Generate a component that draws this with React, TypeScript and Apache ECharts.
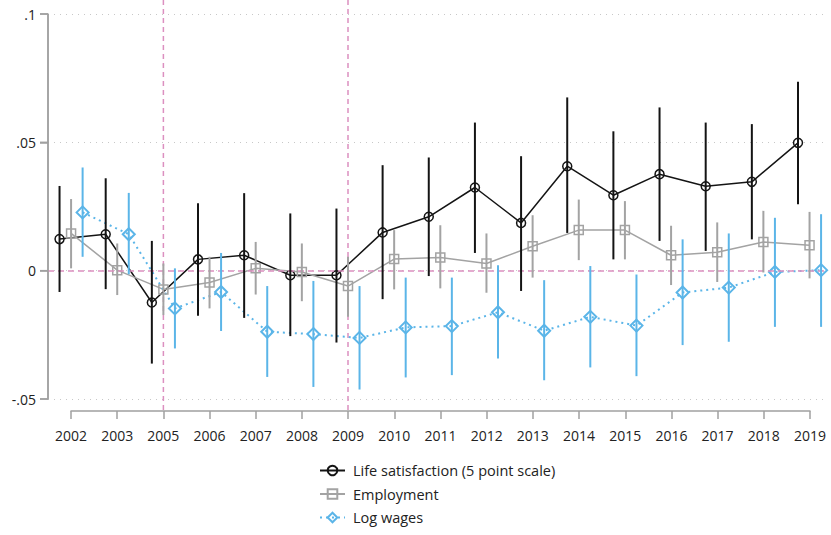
import React, { useEffect, useRef } from "react";
import * as echarts from "echarts";

const years = ["2002", "2003", "2005", "2006", "2007", "2008", "2009", "2010", "2011", "2012", "2013", "2014", "2015", "2016", "2017", "2018", "2019"];

const lifeSat = [0.0123, 0.0142, -0.0124, 0.0044, 0.006, -0.0018, -0.0018, 0.0149, 0.021, 0.0324, 0.0186, 0.0407, 0.0294, 0.0376, 0.0329, 0.0346, 0.0498];
const lifeLo = [-0.0083, -0.0072, -0.0362, -0.0176, -0.0184, -0.0255, -0.028, -0.0111, -0.0021, 0.0069, -0.0079, 0.0147, 0.0044, 0.0116, 0.0077, 0.0122, 0.0259];
const lifeHi = [0.033, 0.036, 0.0116, 0.0263, 0.0302, 0.0223, 0.0242, 0.0411, 0.0441, 0.0577, 0.0446, 0.0675, 0.0543, 0.0636, 0.0577, 0.0571, 0.0736];

const emp = [0.0145, 0.0002, -0.0073, -0.0046, 0.0009, -0.0005, -0.006, 0.0045, 0.0051, 0.0028, 0.0095, 0.0158, 0.0158, 0.006, 0.0072, 0.0112, 0.0099];
const empLo = [0.0009, -0.0095, -0.0173, -0.0147, -0.0093, -0.0119, -0.018, -0.0073, -0.0069, -0.0086, -0.0027, 0.0041, 0.0044, -0.0056, -0.0044, -0.0007, -0.003];
const empHi = [0.0279, 0.0106, 0.0028, 0.0054, 0.0112, 0.0106, 0.0054, 0.0158, 0.0177, 0.0145, 0.0216, 0.0277, 0.0271, 0.0175, 0.0188, 0.0233, 0.0229];

const wage = [0.0227, 0.0142, -0.0147, -0.0083, -0.0238, -0.0247, -0.0262, -0.0221, -0.0216, -0.0162, -0.0234, -0.018, -0.0214, -0.0085, -0.0066, -0.0005, 0.0002];
const wageLo = [0.0054, -0.0014, -0.0303, -0.0235, -0.0414, -0.0453, -0.0463, -0.0416, -0.0407, -0.0342, -0.0427, -0.0377, -0.0411, -0.029, -0.0277, -0.0219, -0.0219];
const wageHi = [0.0402, 0.0303, 0.0009, 0.0069, -0.006, -0.004, -0.006, -0.0027, -0.0027, 0.0021, -0.0037, 0.0018, -0.0015, 0.0122, 0.0145, 0.0206, 0.022];

const refYears = ["2005", "2009"];
const yTicks = [-0.05, 0, 0.05, 0.1];

const FONT = "Open Sans";
const BLACK = "#141414";
const GRAY = "#a3a3a3";
const AXIS = "#a0a0a0";
const BLUE = "#5bb5e8";
const PINK = "#dc90c0";

// x position of a category = its 1-based index + a small per-series offset
const X_MIN = 0.5;
const X_MAX = 17.4;
const OFFSETS = [-0.25, 0, 0.25];
const pos = (i: number, k: number) => i + 1 + OFFSETS[k];

function fmtY(v: number) {
  const r = Number(v.toFixed(3));
  if (r === 0) return "0";
  const s = String(Math.abs(r)).replace(/^0\./, ".");
  return (r < 0 ? "-" : "") + s;
}

function errSeries(name: string, lo: number[], hi: number[], k: number, color: string) {
  return {
    type: "custom",
    name: name + " CI",
    xAxisIndex: 0,
    yAxisIndex: 0,
    z: 5,
    silent: true,
    clip: false,
    encode: { x: 0, y: [1, 2] },
    data: lo.map((l, i) => [pos(i, k), l, hi[i]]),
    renderItem: (params: any, api: any) => {
      const x = api.value(0);
      const p1 = api.coord([x, api.value(1)]);
      const p2 = api.coord([x, api.value(2)]);
      return {
        type: "line",
        shape: { x1: p1[0], y1: p1[1], x2: p2[0], y2: p2[1] },
        style: { stroke: color, lineWidth: 2 },
      };
    },
  };
}

export default function App() {
  const ref = useRef<HTMLDivElement>(null);
  useEffect(() => {
    if (!ref.current) return;
    const chart = echarts.init(ref.current, null, { renderer: "svg" });
    const refIdx = refYears.map((y) => years.indexOf(y));
    chart.setOption({
      animation: false,
      backgroundColor: "#fff",
      textStyle: { fontFamily: FONT },
      grid: [
        { left: 48, right: 3, top: 14, bottom: 136 },
        { left: 71, right: 21, top: 14, bottom: 124 },
      ],
      xAxis: [
        {
          type: "value",
          gridIndex: 0,
          min: X_MIN,
          max: X_MAX,
          axisLine: { show: false, onZero: false },
          axisTick: { show: false },
          axisLabel: { show: false },
          splitLine: { show: false },
        },
        {
          type: "category",
          gridIndex: 1,
          data: years,
          boundaryGap: false,
          axisLine: { onZero: false, lineStyle: { color: AXIS, width: 1.5 } },
          axisTick: { length: 8, lineStyle: { color: AXIS, width: 1.5 } },
          axisLabel: { margin: 17, color: "#222", fontSize: 14, fontFamily: FONT },
          splitLine: { show: false },
        },
      ],
      yAxis: [
        {
          type: "value",
          gridIndex: 0,
          position: "left",
          min: -0.05,
          max: 0.1,
          interval: 0.05,
          axisLine: { show: true, onZero: false, lineStyle: { color: AXIS, width: 1.5 } },
          axisTick: { show: true, length: 8, lineStyle: { color: AXIS, width: 1.5 } },
          axisLabel: { margin: 12, color: "#222", fontSize: 14, fontFamily: FONT, formatter: (v: number) => fmtY(v) },
          splitLine: { show: true, lineStyle: { color: "#c8c8c8", type: [1, 5], width: 1 } },
        },
        { type: "value", gridIndex: 1, min: -0.05, max: 0.1, show: false },
      ],
      legend: {
        orient: "vertical",
        left: 314,
        top: 458,
        itemWidth: 25,
        itemHeight: 12,
        itemGap: 8.5,
        data: ["Life satisfaction (5 point scale)", "Employment", "Log wages"],
        textStyle: { fontSize: 14.5, color: "#222", fontFamily: FONT, padding: [0, 0, 0, 3] },
      },
      series: [
        {
          type: "custom",
          name: "refV",
          xAxisIndex: 0,
          yAxisIndex: 0,
          silent: true,
          clip: false,
          z: 1,
          data: refIdx.map((i) => [pos(i, 1)]),
          encode: { x: 0 },
          renderItem: (params: any, api: any) => {
            const top = api.coord([api.value(0), yTicks[yTicks.length - 1]]);
            const bot = api.coord([api.value(0), yTicks[0]]);
            return {
              type: "line",
              shape: { x1: top[0], y1: top[1] - 14, x2: bot[0], y2: bot[1] + 12 },
              style: { stroke: PINK, lineWidth: 1.5, lineDash: [5, 4] },
            };
          },
        },
        {
          type: "line",
          name: "Life satisfaction (5 point scale)",
          xAxisIndex: 0,
          yAxisIndex: 0,
          z: 3,
          clip: false,
          data: lifeSat.map((v, i) => [pos(i, 0), v]),
          symbol: "circle",
          symbolSize: 9,
          showSymbol: true,
          lineStyle: { color: BLACK, width: 1.5 },
          itemStyle: { color: "rgba(255,255,255,0)", borderColor: BLACK, borderWidth: 1.5 },
          emphasis: { disabled: true },
          markLine: {
            silent: true,
            symbol: "none",
            label: { show: false },
            lineStyle: { color: PINK, type: [6, 4], width: 1.5 },
            data: [{ yAxis: 0 }],
          },
        },
        {
          type: "line",
          name: "Employment",
          xAxisIndex: 0,
          yAxisIndex: 0,
          z: 3,
          clip: false,
          data: emp.map((v, i) => [pos(i, 1), v]),
          symbol: "rect",
          symbolSize: 9,
          showSymbol: true,
          lineStyle: { color: GRAY, width: 1.5 },
          itemStyle: { color: "rgba(255,255,255,0)", borderColor: GRAY, borderWidth: 1.5 },
          emphasis: { disabled: true },
        },
        {
          type: "line",
          name: "Log wages",
          xAxisIndex: 0,
          yAxisIndex: 0,
          z: 3,
          clip: false,
          data: wage.map((v, i) => [pos(i, 2), v]),
          symbol: "diamond",
          symbolSize: 12,
          showSymbol: true,
          lineStyle: { color: BLUE, width: 2, type: [2, 4] },
          itemStyle: { color: "rgba(255,255,255,0)", borderColor: BLUE, borderWidth: 2 },
          emphasis: { disabled: true },
        },
        errSeries("Life satisfaction", lifeLo, lifeHi, 0, BLACK),
        errSeries("Employment", empLo, empHi, 1, GRAY),
        errSeries("Log wages", wageLo, wageHi, 2, BLUE),
      ],
    });

    // y axis line and ticks placed through the chart's own y scale
    const finder = { xAxisIndex: 0, yAxisIndex: 0 };
    const topPx = chart.convertToPixel(finder, [X_MIN, yTicks[yTicks.length - 1]]) as number[];
    const botPx = chart.convertToPixel(finder, [X_MIN, yTicks[0]]) as number[];
    if (topPx && botPx) {
      const els: any[] = [
        {
          type: "line",
          silent: true,
          z: 100,
          shape: { x1: topPx[0], y1: topPx[1], x2: botPx[0], y2: botPx[1] },
          style: { stroke: AXIS, lineWidth: 1.5 },
        },
      ];
      yTicks.forEach((t) => {
        const p = chart.convertToPixel(finder, [X_MIN, t]) as number[];
        els.push({
          type: "line",
          silent: true,
          z: 100,
          shape: { x1: p[0] - 8, y1: p[1], x2: p[0], y2: p[1] },
          style: { stroke: AXIS, lineWidth: 1.5 },
        });
      });
      chart.setOption({ graphic: els });
    }
    return () => chart.dispose();
  }, []);
  return <div ref={ref} style={{ position: "fixed", left: 0, top: 0, width: 831, height: 535 }} />;
}
